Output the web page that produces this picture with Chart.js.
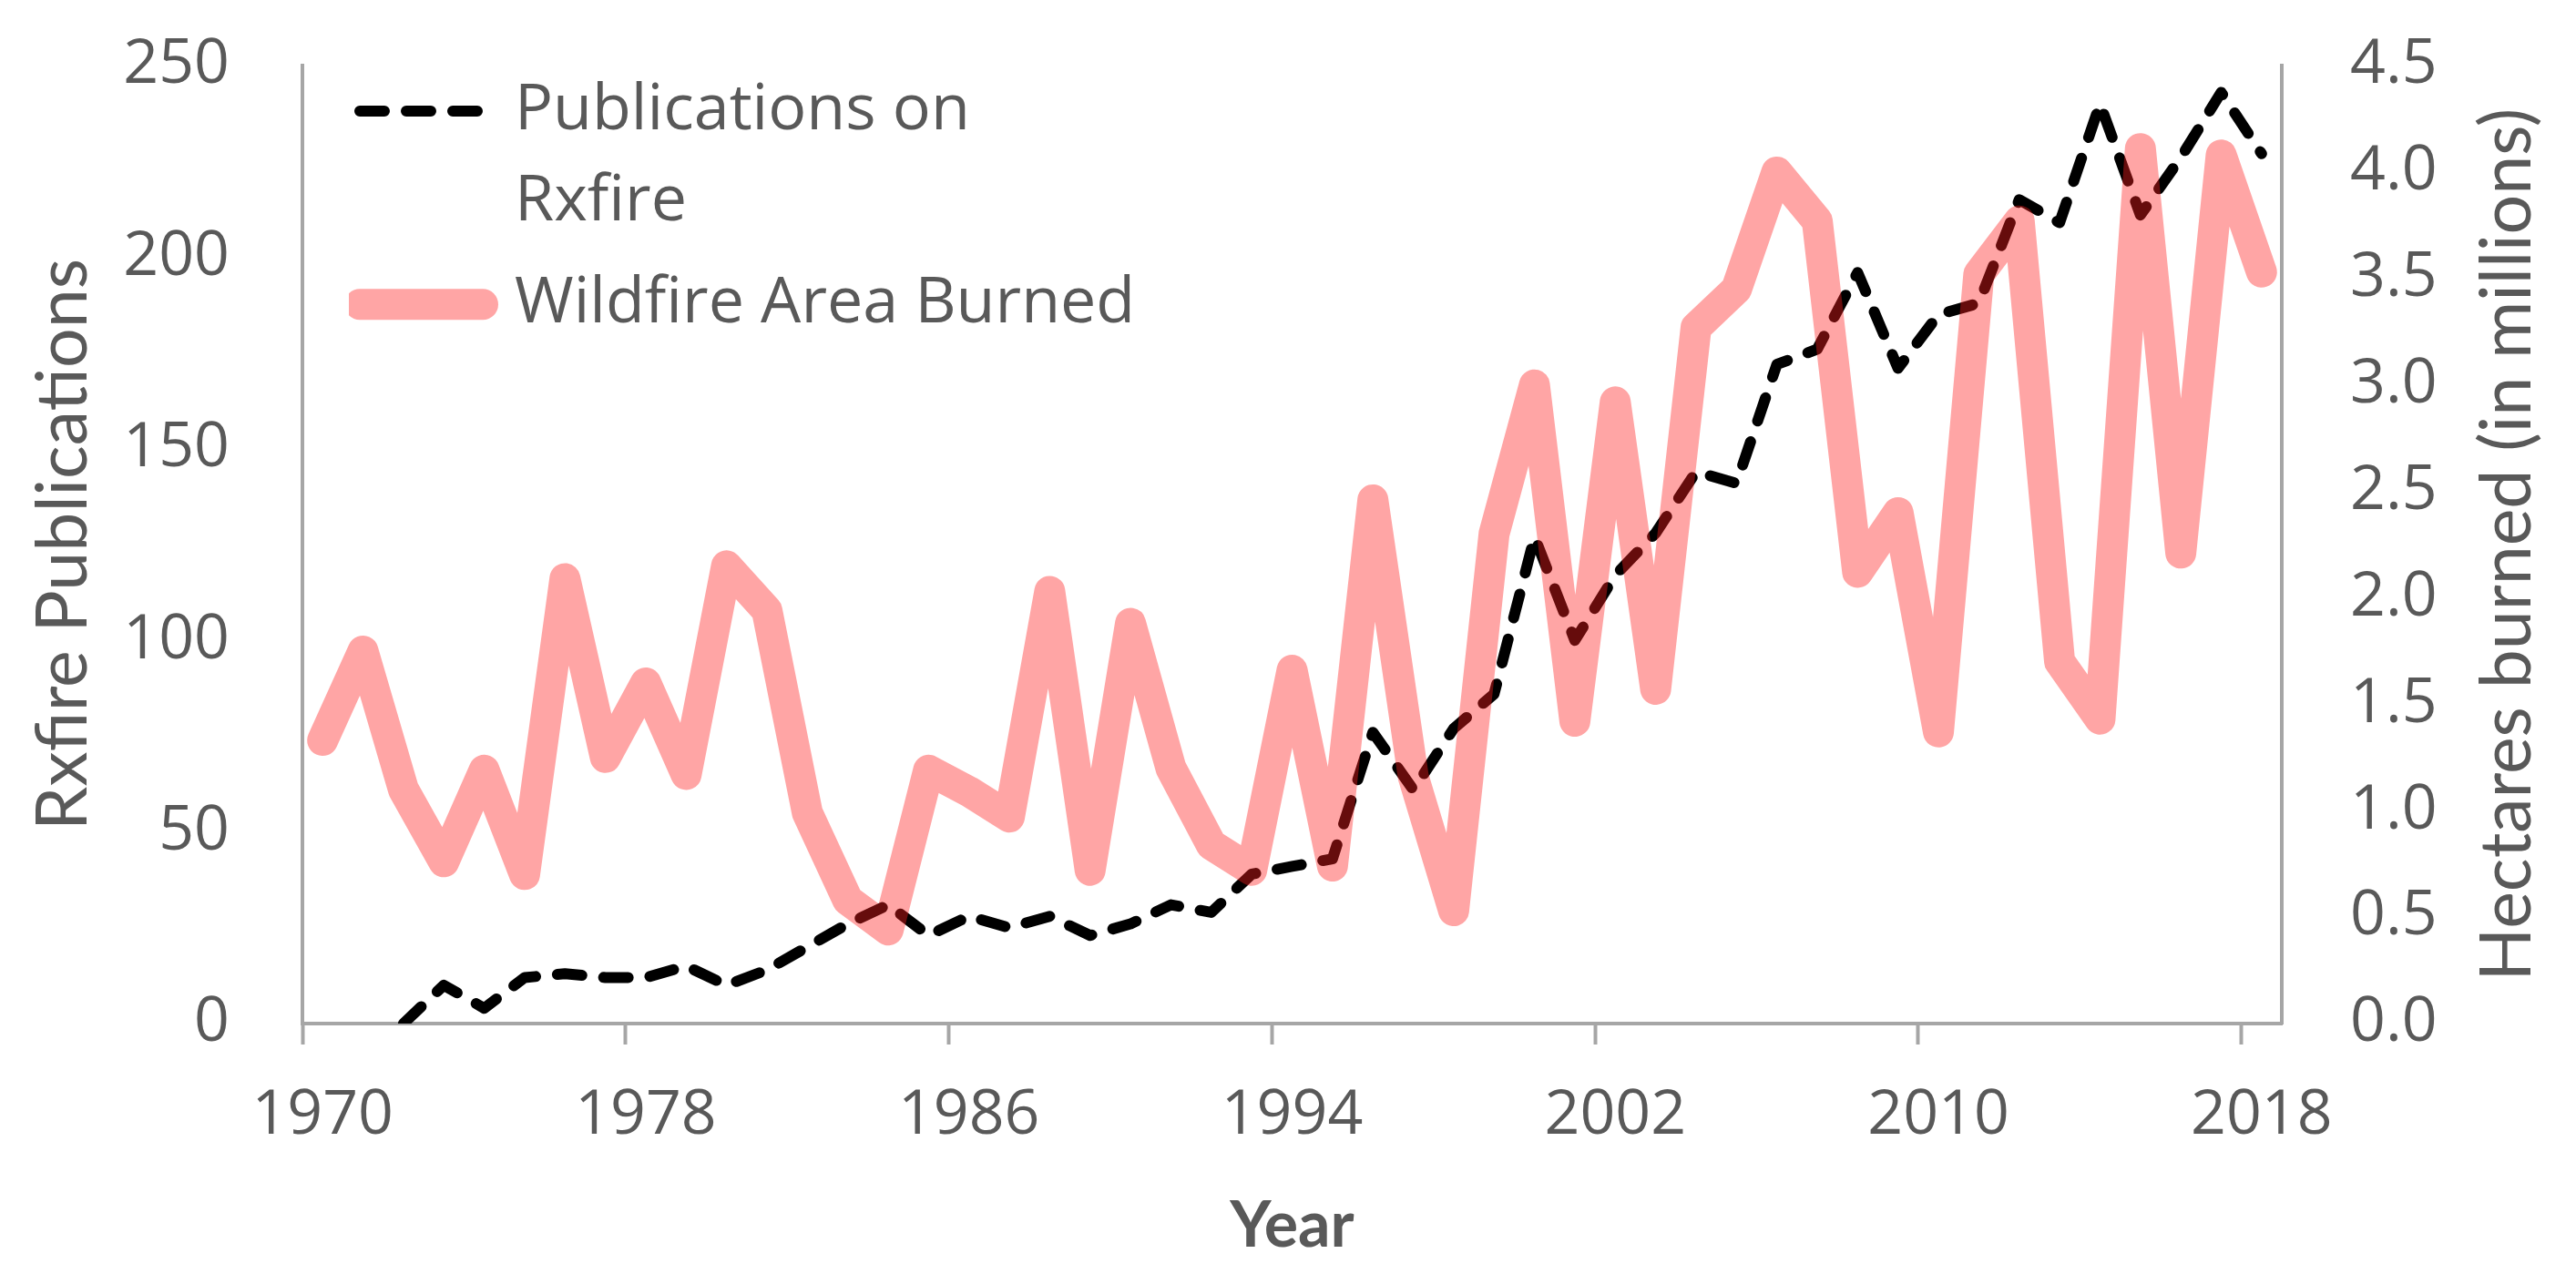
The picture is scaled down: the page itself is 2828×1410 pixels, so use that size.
<!DOCTYPE html>
<html>
<head>
<meta charset="utf-8">
<script src="https://cdn.jsdelivr.net/npm/chart.js@4.4.0/dist/chart.umd.min.js"></script>
<style>
  html, body { margin: 0; padding: 0; background: #fff; }
  #wrap { width: 2828px; height: 1410px; position: relative; }
</style>
</head>
<body>
<div id="wrap"><canvas id="chart"></canvas></div>
<script>
const years = [];
for (let y = 1970; y <= 2018; y++) years.push(String(y));

// publications per year (left axis), none before 1972
const publications = [
    null, null, 0, 10, 4, 12, 13, 12, 12, 15,
    10, 14, 20, 26, 31, 23, 28, 25, 28, 23,
    26, 31, 29, 39, 41, 43, 76, 61, 77, 86,
    127, 100, 117, 128, 144, 141, 172, 176, 196, 171,
    185, 188, 215, 209, 240, 211, 226, 243, 227
];

// wildfire area burned, millions of hectares (right axis)
const areaBurned = [
    1.33, 1.75, 1.10, 0.76, 1.19, 0.70, 2.09, 1.25, 1.60, 1.17,
    2.15, 1.94, 0.99, 0.58, 0.44, 1.19, 1.09, 0.97, 2.03, 0.72,
    1.88, 1.20, 0.84, 0.72, 1.66, 0.74, 2.46, 1.16, 0.53, 2.30,
    3.00, 1.42, 2.92, 1.57, 3.27, 3.45, 4.00, 3.77, 2.12, 2.40,
    1.37, 3.52, 3.77, 1.70, 1.43, 4.11, 2.21, 4.08, 3.53
];

const rightTitle = 'Hectares burned (in millions)';
const axisGray = '#a6a6a6';
const textGray = '#595959';
const clear = 'rgba(0,0,0,0)';

// nudge the in-plot legend to where the original sits
const legendPlace = {
    id: 'legendPlace',
    afterLayout(chart) {
        const lg = chart.legend;
        const area = chart.chartArea;
        lg.left = area.left + 51;
        lg.top = area.top + 3;
        lg.right = lg.left + lg.width;
        lg.bottom = area.bottom;
    }
};

// right axis title reads bottom-to-top like the left one
const rightAxisTitle = {
    id: 'rightAxisTitle',
    afterDraw(chart) {
        const c = chart.ctx;
        const s = chart.scales.y2;
        c.save();
        c.translate(s.right - 75, (s.top + s.bottom) / 2);
        c.rotate(-Math.PI / 2);
        c.font = '77px Lato';
        c.fillStyle = textGray;
        c.textAlign = 'center';
        c.textBaseline = 'middle';
        c.fillText(rightTitle, 0, 0);
        c.restore();
    }
};

const ctx = document.getElementById('chart').getContext('2d');
new Chart(ctx, {
    type: 'line',
    data: {
        labels: years,
        datasets: [
            {
                label: 'Publications on Rxfire',
                data: publications,
                yAxisID: 'y',
                borderColor: '#000000',
                backgroundColor: '#000000',
                borderWidth: 12,
                borderDash: [27, 24],
                borderCapStyle: 'round',
                borderJoinStyle: 'round',
                pointRadius: 0,
                tension: 0,
                order: 1
            },
            {
                label: 'Wildfire Area Burned',
                data: areaBurned,
                yAxisID: 'y2',
                borderColor: 'rgba(255, 30, 30, 0.4)',
                backgroundColor: 'rgba(255, 30, 30, 0.4)',
                borderWidth: 34,
                borderCapStyle: 'round',
                borderJoinStyle: 'round',
                pointRadius: 0,
                tension: 0,
                order: 0
            }
        ]
    },
    options: {
        responsive: true,
        maintainAspectRatio: false,
        devicePixelRatio: 1,
        animation: false,
        layout: { padding: { top: 72, left: 0, right: 0, bottom: 0 } },
        plugins: {
            tooltip: { enabled: false },
            legend: {
                position: 'chartArea',
                align: 'start',
                labels: {
                    usePointStyle: true,
                    pointStyle: 'line',
                    pointStyleWidth: 135,
                    padding: 12,
                    color: textGray,
                    font: { family: 'Open Sans', size: 70, lineHeight: 1.43 },
                    generateLabels: chart => {
                        const items = Chart.defaults.plugins.legend.labels.generateLabels(chart);
                        items.sort((a, b) => a.datasetIndex - b.datasetIndex);
                        items.forEach(item => {
                            const ds = chart.data.datasets[item.datasetIndex];
                            item.lineDash = ds.borderDash || [];
                            item.lineWidth = ds.borderWidth;
                            item.lineCap = 'round';
                            item.strokeStyle = ds.borderColor;
                        });
                        items[0].text = ['Publications on', 'Rxfire'];
                        return items;
                    }
                }
            }
        },
        scales: {
            x: {
                type: 'category',
                offset: true,
                grid: {
                    offset: true,
                    drawOnChartArea: false,
                    drawTicks: true,
                    tickLength: 23,
                    tickWidth: 4,
                    tickColor: c => (c.index % 8 === 0 ? axisGray : clear)
                },
                border: { display: true, color: axisGray, width: 4 },
                ticks: {
                    autoSkip: false,
                    maxRotation: 0,
                    padding: 38,
                    color: textGray,
                    font: { family: 'Open Sans', size: 68 },
                    callback: function (value, index) {
                        return index % 8 === 0 ? this.getLabelForValue(value) : '';
                    }
                },
                title: {
                    display: true,
                    text: 'Year',
                    color: textGray,
                    font: { family: 'Lato', size: 70, weight: 'bold' },
                    padding: { top: 0, bottom: 22 }
                },
                afterFit: s => { s.height = 286; }
            },
            y: {
                position: 'left',
                min: 0,
                max: 250,
                // invisible tick marks give the label gap without padding the top
                grid: { drawOnChartArea: false, drawTicks: true, tickLength: 80, tickColor: clear },
                border: { display: true, color: axisGray, width: 4 },
                ticks: {
                    stepSize: 50,
                    padding: 0,
                    color: textGray,
                    font: { family: 'Open Sans', size: 68 }
                },
                title: {
                    display: true,
                    text: 'Rxfire Publications',
                    color: textGray,
                    font: { family: 'Lato', size: 77 },
                    padding: { top: 24, bottom: 0 }
                },
                afterFit: s => { s.width = 332; }
            },
            y2: {
                position: 'right',
                min: 0,
                max: 4.5,
                grid: { drawOnChartArea: false, drawTicks: true, tickLength: 75, tickColor: clear },
                border: { display: true, color: axisGray, width: 4 },
                ticks: {
                    stepSize: 0.5,
                    padding: 0,
                    color: textGray,
                    font: { family: 'Open Sans', size: 68 },
                    callback: v => v.toFixed(1)
                },
                title: { display: false },
                afterFit: s => { s.width = 323; }
            }
        }
    },
    plugins: [legendPlace, rightAxisTitle]
});
</script>
</body>
</html>
